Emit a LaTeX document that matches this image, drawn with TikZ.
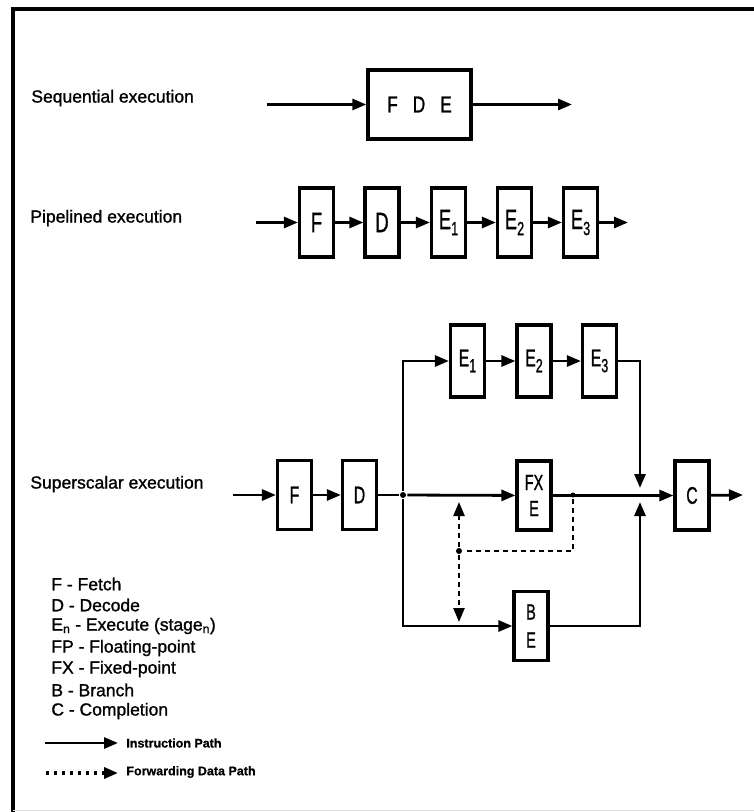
\documentclass[tikz,border=0pt]{standalone}
\usepackage{graphicx}
\usepackage{fontspec}
\setmainfont{Liberation Sans}[FakeBold=0.8]
\newfontfamily\heavyfont{Liberation Sans}[FakeBold=1.2]
\usetikzlibrary{arrows.meta}
\newcommand\stgtext[2][0.66]{\scalebox{#1}[1]{#2}}
\newcommand\stgsub[2]{#1\raisebox{-6pt}{\fontsize{19}{19}\selectfont #2}}
\begin{document}
\begin{tikzpicture}[x=1pt,y=-1pt,
  line width=2.8pt,
  arr/.style={-{Triangle[length=14pt,width=11pt]}},
  stage/.style={draw,line width=3.2pt,minimum width=34pt,minimum height=69pt,inner sep=0pt},
  bigstage/.style={stage,font=\heavyfont\fontsize{28}{28}\selectfont},
  smallstage/.style={stage,font=\heavyfont\fontsize{24}{27}\selectfont,align=center},
  lbl/.style={anchor=west,font=\heavyfont\fontsize{17.5}{20}\selectfont,inner sep=0pt},
  leg/.style={anchor=west,font=\bfseries\fontsize{12.5}{14}\selectfont,inner sep=0pt},
  fwd/.style={dash pattern=on 5pt off 4pt,line width=2.4pt},
  jdot/.style={circle,fill,inner sep=0pt,minimum size=6pt}
]
\useasboundingbox (0,0) rectangle (754,812);
% frame
\draw[line width=3.2pt] (13,812) -- (13,9) -- (754,9);
\draw[line width=1pt,black!12] (13,810) -- (754,810);

% ---------- Sequential ----------
\node[lbl] (tseq) at (30,98) {Sequential execution};
\coordinate (sin) at (267,104.5);
\node[draw,line width=3.4pt,minimum width=103pt,minimum height=69pt,inner sep=0pt,
      font=\heavyfont\fontsize{23}{23}\selectfont] (fde) at (419.5,104.5)
      {\stgtext[0.75]{F\hspace{20pt}D\hspace{20pt}E}};
\coordinate (sout) at (572,104.5);
\draw[arr] (sin) -- (fde);
\draw[arr] (fde) -- (sout);

% ---------- Pipelined ----------
\node[lbl] (tpip) at (29,218) {Pipelined execution};
\coordinate (pin) at (256,222.5);
\node[bigstage] (pf)  at (316.5,222.5) {\stgtext{F}};
\node[bigstage] (pd)  at (382,222.5)   {\stgtext{D}};
\node[bigstage] (pe1) at (448.5,222.5) {\stgtext{\stgsub{E}{1}}};
\node[bigstage] (pe2) at (514.5,222.5) {\stgtext{\stgsub{E}{2}}};
\node[bigstage] (pe3) at (580.5,222.5) {\stgtext{\stgsub{E}{3}}};
\coordinate (pout) at (628,222.5);
\draw[arr] (pin) -- (pf);
\draw[arr] (pf) -- (pd);
\draw[arr] (pd) -- (pe1);
\draw[arr] (pe1) -- (pe2);
\draw[arr] (pe2) -- (pe3);
\draw[arr] (pe3) -- (pout);

% ---------- Superscalar ----------
\node[lbl] (tsup) at (29,484) {Superscalar execution};
\coordinate (xin) at (233,495);
\node[smallstage] (xf) at (294.5,495) {\stgtext{F}};
\node[smallstage] (xd) at (359.5,495) {\stgtext{D}};
\node[jdot] (j) at (403,495) {};
\coordinate (jt) at (403,361);
\coordinate (jb) at (403,626);
\node[smallstage,minimum height=72pt] (ue1) at (467.5,361) {\stgtext{\stgsub{E}{1}}};
\node[smallstage,minimum height=72pt] (ue2) at (534,361)   {\stgtext{\stgsub{E}{2}}};
\node[smallstage,minimum height=72pt] (ue3) at (599.5,361) {\stgtext{\stgsub{E}{3}}};
\node[smallstage,font=\heavyfont\fontsize{22}{27}\selectfont] (fx) at (534,495.5) {\stgtext{FX}\\[-1pt]\stgtext{E}};
\node[smallstage,font=\heavyfont\fontsize{22}{28}\selectfont] (be) at (531,626) {\stgtext{B}\\\stgtext{E}};
\node[smallstage] (xc) at (692,495.5) {\stgtext{C}};
\coordinate (xout) at (743,495);
\coordinate (ur) at (640,361);
\coordinate (mt) at (640,488);
\coordinate (lr) at (640,626);
\coordinate (mb) at (640,502);

\draw[arr] (xin) -- (xf);
\draw[arr] (xf) -- (xd);
\draw (xd) -- (j);
\draw[arr] (j) -- (fx);
\draw[arr] (fx) -- (xc);
\draw[arr] (xc) -- (xout);
\draw[arr] (j) -- (jt) -- (ue1);
\draw[arr] (ue1) -- (ue2);
\draw[arr] (ue2) -- (ue3);
\draw[arr] (ue3) -- (ur) -- (mt);
\draw[arr] (j) -- (jb) -- (be);
\draw[arr] (be) -- (lr) -- (mb);

% forwarding paths
\node[jdot,minimum size=5pt] (fxd) at (573,495) {};
\coordinate (fc) at (573,551);
\node[jdot,minimum size=6pt] (fd) at (459,551) {};
\coordinate (fup) at (459,502);
\coordinate (fdn) at (459,622);
\draw[fwd] (fxd) -- (fc) -- (fd);
\draw[fwd,arr] (fd) -- (fup);
\draw[fwd,arr] (fd) -- (fdn);

% ---------- Legend ----------
\node[lbl] (l1) at (50,584) {F - Fetch};
\node[lbl] (l2) at (50,605) {D - Decode};
\node[lbl] (l3) at (50,626) {E\textsubscript{n} - Execute (stage\textsubscript{n})};
\node[lbl] (l4) at (50,648) {FP - Floating-point};
\node[lbl] (l5) at (50,669) {FX - Fixed-point};
\node[lbl] (l6) at (50,690) {B - Branch};
\node[lbl] (l7) at (50,711) {C - Completion};

\coordinate (ia) at (45,743);
\coordinate (ib) at (118,743);
\draw[arr] (ia) -- (ib);
\node[leg] (it) at (125,743) {Instruction Path};
\coordinate (fa) at (46,773);
\coordinate (fb) at (118,773);
\draw[line width=3.4pt,dash pattern=on 3pt off 5pt,arr] (fa) -- (fb);
\node[leg] (ft) at (125,772) {Forwarding Data Path};
\end{tikzpicture}
\end{document}
